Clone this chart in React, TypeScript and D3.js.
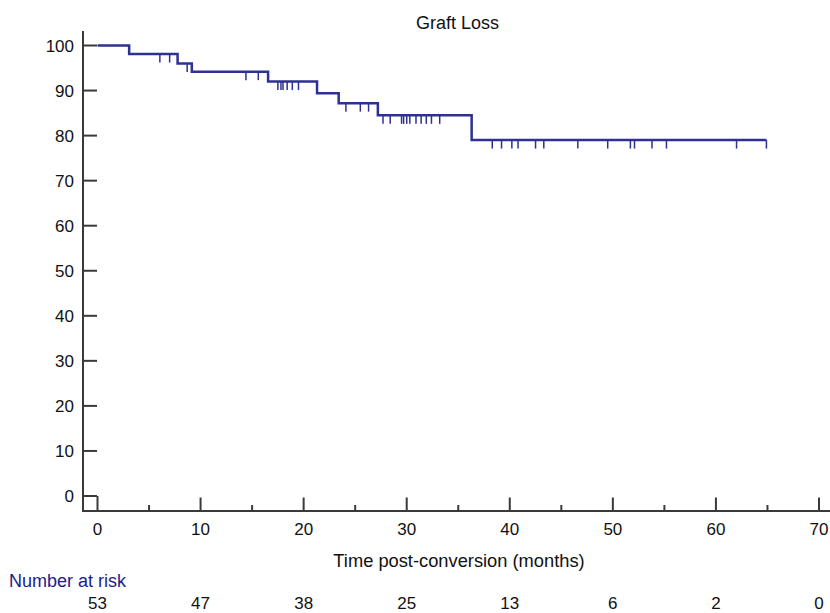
import React from "react";
import * as d3 from "d3";

// Kaplan-Meier step points (time in months, survival %)
const stepTimes = [0, 3.07, 7.77, 9.15, 16.55, 21.3, 23.4, 27.2, 36.3, 64.9];
const stepValues = [100, 98.1, 96.0, 94.2, 92.0, 89.4, 87.2, 84.5, 79.0, 79.0];

// censored observations
const censorTimes = [
  6.05, 7.0, 8.7, 14.4, 15.6, 17.5, 17.8, 18.0, 18.4, 18.9, 19.5, 24.1, 25.5,
  26.3, 27.7, 28.4, 29.5, 29.7, 30.0, 30.3, 30.9, 31.4, 31.9, 32.4, 33.2, 38.3,
  39.2, 40.2, 40.8, 42.5, 43.3, 46.6, 49.5, 51.7, 52.1, 53.8, 55.2, 62.0, 64.9,
];

const xTicks = [0, 10, 20, 30, 40, 50, 60, 70];
const xMinorTicks = [5, 15, 25, 35, 45, 55, 65];
const yTicks = [0, 10, 20, 30, 40, 50, 60, 70, 80, 90, 100];
const atRisk = [53, 47, 38, 25, 13, 6, 2, 0];

const WIDTH = 830;
const HEIGHT = 613;
const AXIS_X = 83;
const AXIS_Y = 511;
const AXIS_COLOR = "#3a3a3a";
const CURVE_COLOR = "#2e3192";
const FONT = "Liberation Sans, Arial, sans-serif";

const App = () => {
  const xScale = d3.scaleLinear().domain([0, 70]).range([97.5, 819]);
  const yScale = d3.scaleLinear().domain([0, 100]).range([496, 45.5]);

  const points: [number, number][] = stepTimes.map((t, i) => [t, stepValues[i]]);
  const line = d3
    .line<[number, number]>()
    .x((d) => xScale(d[0]))
    .y((d) => yScale(d[1]))
    .curve(d3.curveStepAfter);

  // survival level at a given time
  const levelAt = (t: number) => {
    let v = stepValues[0];
    stepTimes.forEach((s, i) => {
      if (s <= t) v = stepValues[i];
    });
    return v;
  };

  return (
    <svg
      width={WIDTH}
      height={HEIGHT}
      style={{ position: "absolute", left: 0, top: 0 }}
      fontFamily={FONT}
    >
      <rect width={WIDTH} height={HEIGHT} fill="#fff" />
      <text x={457.5} y={29} textAnchor="middle" fontSize={18} fill="#111">
        Graft Loss
      </text>

      {/* axes */}
      <line x1={AXIS_X} x2={AXIS_X} y1={31} y2={AXIS_Y + 1} stroke={AXIS_COLOR} strokeWidth={2} />
      <line x1={AXIS_X} x2={WIDTH} y1={AXIS_Y} y2={AXIS_Y} stroke={AXIS_COLOR} strokeWidth={2} />

      {yTicks.map((t) => (
        <g key={"y" + t}>
          <line x1={AXIS_X} x2={97} y1={yScale(t)} y2={yScale(t)} stroke={AXIS_COLOR} strokeWidth={2} />
          <text x={74} y={yScale(t) + 6} textAnchor="end" fontSize={17} fill="#111">
            {t}
          </text>
        </g>
      ))}

      {xTicks.map((t) => (
        <g key={"x" + t}>
          <line
            x1={xScale(t)}
            x2={xScale(t)}
            y1={AXIS_Y}
            y2={t === 0 ? 496 : 497.5}
            stroke={AXIS_COLOR}
            strokeWidth={2}
          />
          <text x={xScale(t)} y={535} textAnchor="middle" fontSize={17} fill="#111">
            {t}
          </text>
        </g>
      ))}
      {xMinorTicks.map((t) => (
        <line
          key={"m" + t}
          x1={xScale(t)}
          x2={xScale(t)}
          y1={AXIS_Y}
          y2={505}
          stroke={AXIS_COLOR}
          strokeWidth={2}
        />
      ))}

      <text x={459} y={567} textAnchor="middle" fontSize={18.3} fill="#111">
        Time post-conversion (months)
      </text>

      {/* curve */}
      <path d={line(points) || ""} fill="none" stroke={CURVE_COLOR} strokeWidth={2.5} />
      {censorTimes.map((t, i) => (
        <line
          key={"c" + i}
          x1={xScale(t)}
          x2={xScale(t)}
          y1={yScale(levelAt(t))}
          y2={yScale(levelAt(t)) + 8.5}
          stroke={CURVE_COLOR}
          strokeWidth={1.5}
        />
      ))}

      {/* number at risk */}
      <text x={9} y={587} fontSize={18} fill="#1c1c8c">
        Number at risk
      </text>
      {atRisk.map((n, i) => (
        <text key={"r" + i} x={xScale(xTicks[i])} y={609} textAnchor="middle" fontSize={17} fill="#111">
          {n}
        </text>
      ))}
    </svg>
  );
};

export default App;
